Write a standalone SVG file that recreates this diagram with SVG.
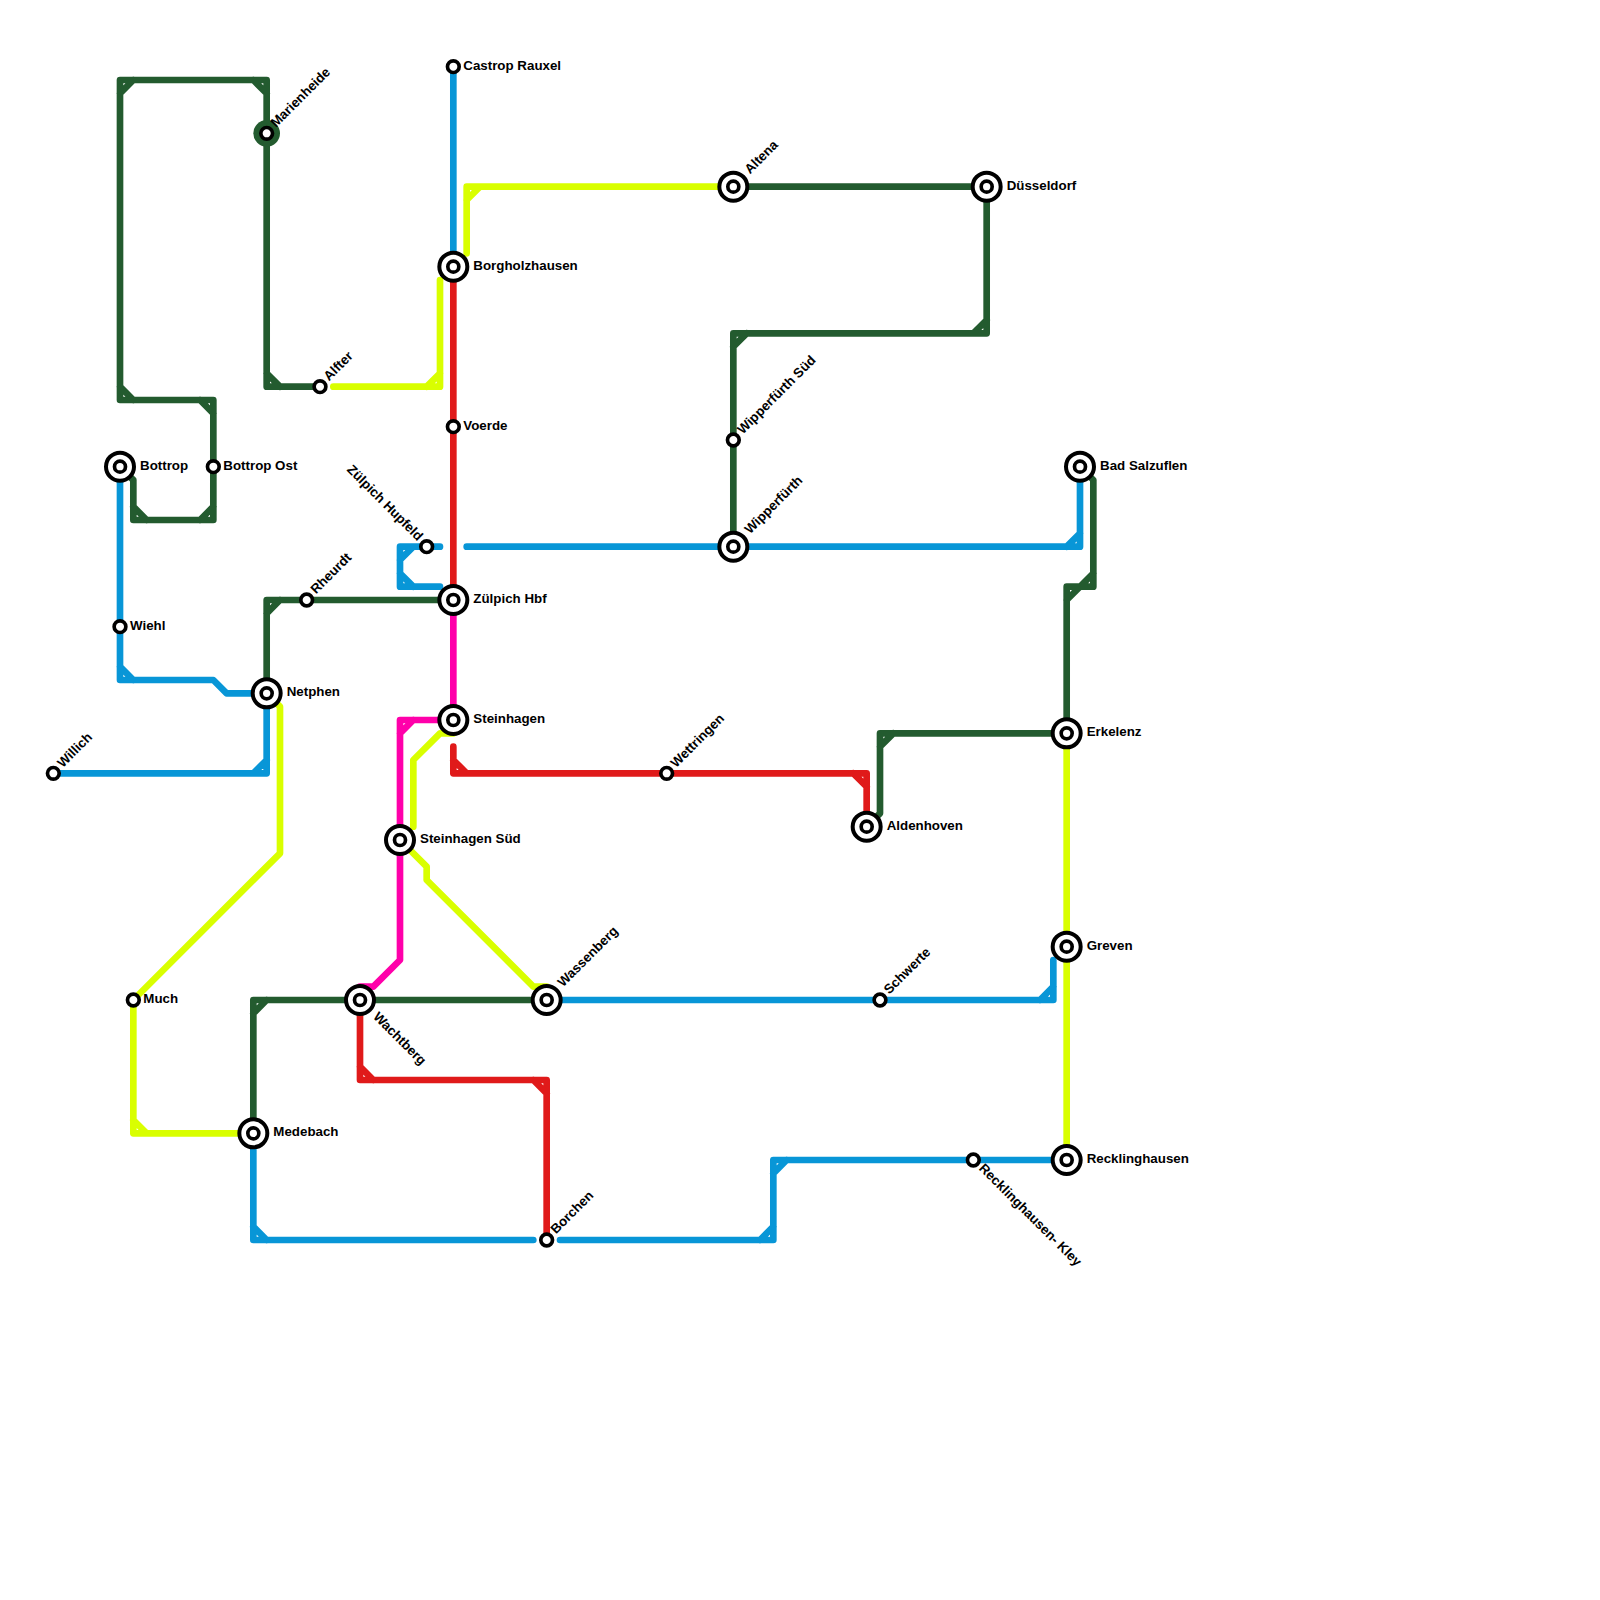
<svg xmlns="http://www.w3.org/2000/svg" width="1600" height="1600" viewBox="0 0 1600 1600">
<style>
.l{fill:none;stroke-width:6.67;stroke-linecap:round;stroke-linejoin:round}
.g{stroke:#235b2f}.b{stroke:#0896d7}.r{stroke:#e01a1a}.m{stroke:#ff00aa}.y{stroke:#d9ff00}
.o{fill:#fff;stroke:#000;stroke-width:4}
.i{fill:#fff;stroke:#000;stroke-width:3.67}
.halo{fill:#235b2f}
text{font-family:"Liberation Sans",Arial,sans-serif;font-weight:bold;font-size:13.33px;fill:#000}
</style>
<rect width="1600" height="1600" fill="#fff"/>
<g id="connectors">
<path class="l b" d="M453.33 66.67V266.67"/>
<path class="l b" d="M120 466.67V680H213.33L226.67 693.33H266.67V773.33H53.33M120 666.67L133.33 680M266.67 760L253.33 773.33"/>
<path class="l b" d="M253.33 1133.33V1240H533.33M253.33 1226.67L266.67 1240"/>
<path class="l b" d="M560 1240H773.33V1160H1066.67M760 1240L773.33 1226.67M773.33 1173.33L786.67 1160"/>
<path class="l b" d="M546.67 1000H1053.33V960M1040 1000L1053.33 986.67"/>
<path class="l b" d="M466.67 546.67H1080V466.67M1066.67 546.67L1080 533.33"/>
<path class="l b" d="M440 546.67H400V586.67H440M400 560L413.33 546.67M400 573.33L413.33 586.67"/>
<path class="l g" d="M266.67 133.33V80H120V400H213.33V520H133.33V480L126 473M253.33 80L266.67 93.33M120 93.33L133.33 80M120 386.67L133.33 400M200 400L213.33 413.33M213.33 506.67L200 520M133.33 506.67L146.67 520"/>
<path class="l g" d="M266.67 133.33V386.67H320M266.67 373.33L280 386.67"/>
<path class="l g" d="M266.67 693.33V600H453.33M266.67 613.33L280 600"/>
<path class="l g" d="M253.33 1133.33V1000H546.67M253.33 1013.33L266.67 1000"/>
<path class="l g" d="M733.33 186.67H986.67V333.33H733.33V546.67M973.33 333.33L986.67 320M733.33 346.67L746.67 333.33"/>
<path class="l g" d="M1066.67 733.33H880V813.33L866.67 826.67M880 746.67L893.33 733.33"/>
<path class="l g" d="M1066.67 733.33V586.67H1093.33V480L1080 466.67M1066.67 600L1093.33 573.33"/>
<path class="l r" d="M453.33 266.67V600"/>
<path class="l r" d="M453.33 746.67V773.33H866.67V826.67M453.33 760L466.67 773.33M853.33 773.33L866.67 786.67"/>
<path class="l r" d="M360 1000V1080H546.67V1240M360 1066.67L373.33 1080M533.33 1080L546.67 1093.33"/>
<path class="l m" d="M453.33 600V720H400V960L373.33 986.67H360V1000M400 733.33L413.33 720"/>
<path class="l y" d="M733.33 186.67H466.67V253.33M466.67 200L480 186.67"/>
<path class="l y" d="M440 280V386.67H333.33M440 373.33L426.67 386.67"/>
<path class="l y" d="M266.67 693.33L280 706.67V853.33L133.33 1000V1133.33H253.33M133.33 1120L146.67 1133.33"/>
<path class="l y" d="M453.33 733.33H440L413.33 760V826.67"/>
<path class="l y" d="M400 840L426.67 866.67V880L533.33 986.67H546.67V1000"/>
<path class="l y" d="M1066.67 733.33V1160"/>
</g>
<defs>
<g id="big"><circle r="14" class="o"/><circle r="5.5" class="i"/></g>
<circle id="small" r="5.85" class="i"/>
</defs>
<g id="castrop-rauxel"><use href="#small" x="453.33" y="66.67"/><text x="463.3" y="69.7">Castrop Rauxel</text></g>
<g id="borgholzhausen"><use href="#big" x="453.33" y="266.67"/><text x="473.33" y="269.7">Borgholzhausen</text></g>
<g id="voerde"><use href="#small" x="453.33" y="426.67"/><text x="463.3" y="429.7">Voerde</text></g>
<g id="zuelpich-hupfeld"><use href="#small" x="426.67" y="546.67"/><text x="417.5" y="541.5" text-anchor="end" transform="rotate(45 417.5 541.5)">Zülpich Hupfeld</text></g>
<g id="zuelpich-hbf"><use href="#big" x="453.33" y="600"/><text x="473.33" y="603">Zülpich Hbf</text></g>
<g id="steinhagen"><use href="#big" x="453.33" y="720"/><text x="473.33" y="723">Steinhagen</text></g>
<g id="steinhagen-sued"><use href="#big" x="400" y="840"/><text x="420" y="843">Steinhagen Süd</text></g>
<g id="wachtberg"><use href="#big" x="360" y="1000"/><text x="372.5" y="1017.5" transform="rotate(45 372.5 1017.5)">Wachtberg</text></g>
<g id="wassenberg"><use href="#big" x="546.67" y="1000"/><text x="563" y="987.5" transform="rotate(-45 563 987.5)">Wassenberg</text></g>
<g id="borchen"><use href="#small" x="546.67" y="1240"/><text x="556" y="1234.5" transform="rotate(-45 556 1234.5)">Borchen</text></g>
<g id="medebach"><use href="#big" x="253.33" y="1133.33"/><text x="273.33" y="1136.3">Medebach</text></g>
<g id="much"><use href="#small" x="133.33" y="1000"/><text x="143.3" y="1003">Much</text></g>
<g id="netphen"><use href="#big" x="266.67" y="693.33"/><text x="286.67" y="696.3">Netphen</text></g>
<g id="rheurdt"><use href="#small" x="306.67" y="600"/><text x="316" y="594.5" transform="rotate(-45 316 594.5)">Rheurdt</text></g>
<g id="alfter"><use href="#small" x="320" y="386.67"/><text x="329" y="381.5" transform="rotate(-45 329 381.5)">Alfter</text></g>
<g id="marienheide"><circle class="halo" cx="266.67" cy="133.33" r="13.33"/><use href="#small" x="266.67" y="133.33"/><text x="276" y="128" transform="rotate(-45 276 128)">Marienheide</text></g>
<g id="bottrop"><use href="#big" x="120" y="466.67"/><text x="140" y="469.7">Bottrop</text></g>
<g id="bottrop-ost"><use href="#small" x="213.33" y="466.67"/><text x="223.3" y="469.7">Bottrop Ost</text></g>
<g id="wiehl"><use href="#small" x="120" y="626.67"/><text x="130" y="629.7">Wiehl</text></g>
<g id="willich"><use href="#small" x="53.33" y="773.33"/><text x="62.7" y="768.2" transform="rotate(-45 62.7 768.2)">Willich</text></g>
<g id="altena"><use href="#big" x="733.33" y="186.67"/><text x="750" y="174.5" transform="rotate(-45 750 174.5)">Altena</text></g>
<g id="duesseldorf"><use href="#big" x="986.67" y="186.67"/><text x="1006.67" y="189.7">Düsseldorf</text></g>
<g id="wipperfuerth-sued"><use href="#small" x="733.33" y="440"/><text x="742.7" y="434.8" transform="rotate(-45 742.7 434.8)">Wipperfürth Süd</text></g>
<g id="wipperfuerth"><use href="#big" x="733.33" y="546.67"/><text x="750" y="534.5" transform="rotate(-45 750 534.5)">Wipperfürth</text></g>
<g id="bad-salzuflen"><use href="#big" x="1080" y="466.67"/><text x="1100" y="469.7">Bad Salzuflen</text></g>
<g id="erkelenz"><use href="#big" x="1066.67" y="733.33"/><text x="1086.67" y="736.3">Erkelenz</text></g>
<g id="greven"><use href="#big" x="1066.67" y="946.67"/><text x="1086.67" y="949.7">Greven</text></g>
<g id="recklinghausen"><use href="#big" x="1066.67" y="1160"/><text x="1086.67" y="1163">Recklinghausen</text></g>
<g id="recklinghausen-kley"><use href="#small" x="973.33" y="1160"/><text x="978.3" y="1169" transform="rotate(45 978.3 1169)">Recklinghausen- Kley</text></g>
<g id="schwerte"><use href="#small" x="880" y="1000"/><text x="889.3" y="994.8" transform="rotate(-45 889.3 994.8)">Schwerte</text></g>
<g id="wettringen"><use href="#small" x="666.67" y="773.33"/><text x="676" y="768.2" transform="rotate(-45 676 768.2)">Wettringen</text></g>
<g id="aldenhoven"><use href="#big" x="866.67" y="826.67"/><text x="886.67" y="829.7">Aldenhoven</text></g>
</svg>
